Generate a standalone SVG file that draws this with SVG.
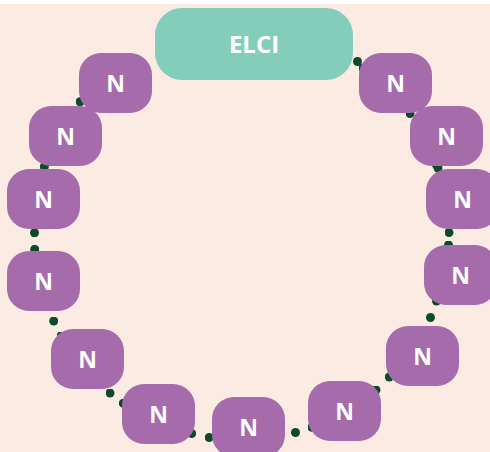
<svg xmlns="http://www.w3.org/2000/svg" width="490" height="452" viewBox="0 0 490 452">
  <defs>
    <marker id="dot" viewBox="0 0 10 10" refX="5" refY="5" markerWidth="9" markerHeight="9" markerUnits="userSpaceOnUse">
      <circle cx="5" cy="5" r="5" fill="#0b4a2b"/>
    </marker>
    <style>
      .n rect { fill: #a56bab; }
      .e rect { fill: #84cdbb; }
      text { font-family: "Open Sans", "Liberation Sans", sans-serif; font-weight: 700; fill: #ffffff; text-anchor: middle; }
      .n text { font-size: 23px; }
      .e text { font-size: 24px; }
      .c path { fill: none; stroke: none; marker-start: url(#dot); marker-end: url(#dot); }
    </style>
  </defs>
  <rect x="0" y="0" width="490" height="452" fill="#ffffff"/>
  <rect x="0" y="4" width="490" height="448" fill="#fcebe3"/>
  <g id="connectors" class="c">
    <path d="M357.5,61.5 L363,68"/>
    <path d="M409,110 L410,113.5"/>
    <path d="M436.5,165 L438,168"/>
    <path d="M449,232.5 L448.5,245"/>
    <path d="M436.5,301 L430.5,317.5"/>
    <path d="M389.3,377 L376,390"/>
    <path d="M312,427.3 L295.5,432.5"/>
    <path d="M209.2,437.5 L191.7,433.5"/>
    <path d="M123.3,403.3 L110,393"/>
    <path d="M61,336 L53.7,321"/>
    <path d="M34.7,249.3 L34.5,232.7"/>
    <path d="M44.3,166.7 L47,162"/>
    <path d="M80,101.7 L84,97"/>
    <path d="M145,75 L166,45"/>
  </g>
  <g id="elci" class="e"><rect x="155" y="8" width="198" height="72" rx="27"/><text x="254" y="53">ELCI</text></g>
  <g id="n1" class="n"><rect x="359" y="53" width="73" height="60" rx="22"/><text x="395.5" y="91.5">N</text></g>
  <g id="n2" class="n"><rect x="410" y="106" width="73" height="60" rx="22"/><text x="446.5" y="144.5">N</text></g>
  <g id="n3" class="n"><rect x="426" y="169" width="73" height="60" rx="22"/><text x="462.5" y="207.5">N</text></g>
  <g id="n4" class="n"><rect x="424" y="245" width="73" height="60" rx="22"/><text x="460.5" y="283.5">N</text></g>
  <g id="n5" class="n"><rect x="386" y="326" width="73" height="60" rx="22"/><text x="422.5" y="364.5">N</text></g>
  <g id="n6" class="n"><rect x="308" y="381" width="73" height="60" rx="22"/><text x="344.5" y="419.5">N</text></g>
  <g id="n7" class="n"><rect x="212" y="397" width="73" height="60" rx="22"/><text x="248.5" y="435.5">N</text></g>
  <g id="n8" class="n"><rect x="122" y="384" width="73" height="60" rx="22"/><text x="158.5" y="422.5">N</text></g>
  <g id="n9" class="n"><rect x="51" y="329" width="73" height="60" rx="22"/><text x="87.5" y="367.5">N</text></g>
  <g id="n10" class="n"><rect x="7" y="251" width="73" height="60" rx="22"/><text x="43.5" y="289.5">N</text></g>
  <g id="n11" class="n"><rect x="7" y="169" width="73" height="60" rx="22"/><text x="43.5" y="207.5">N</text></g>
  <g id="n12" class="n"><rect x="29" y="106" width="73" height="60" rx="22"/><text x="65.5" y="144.5">N</text></g>
  <g id="n13" class="n"><rect x="79" y="53" width="73" height="60" rx="22"/><text x="115.5" y="91.5">N</text></g>
</svg>
